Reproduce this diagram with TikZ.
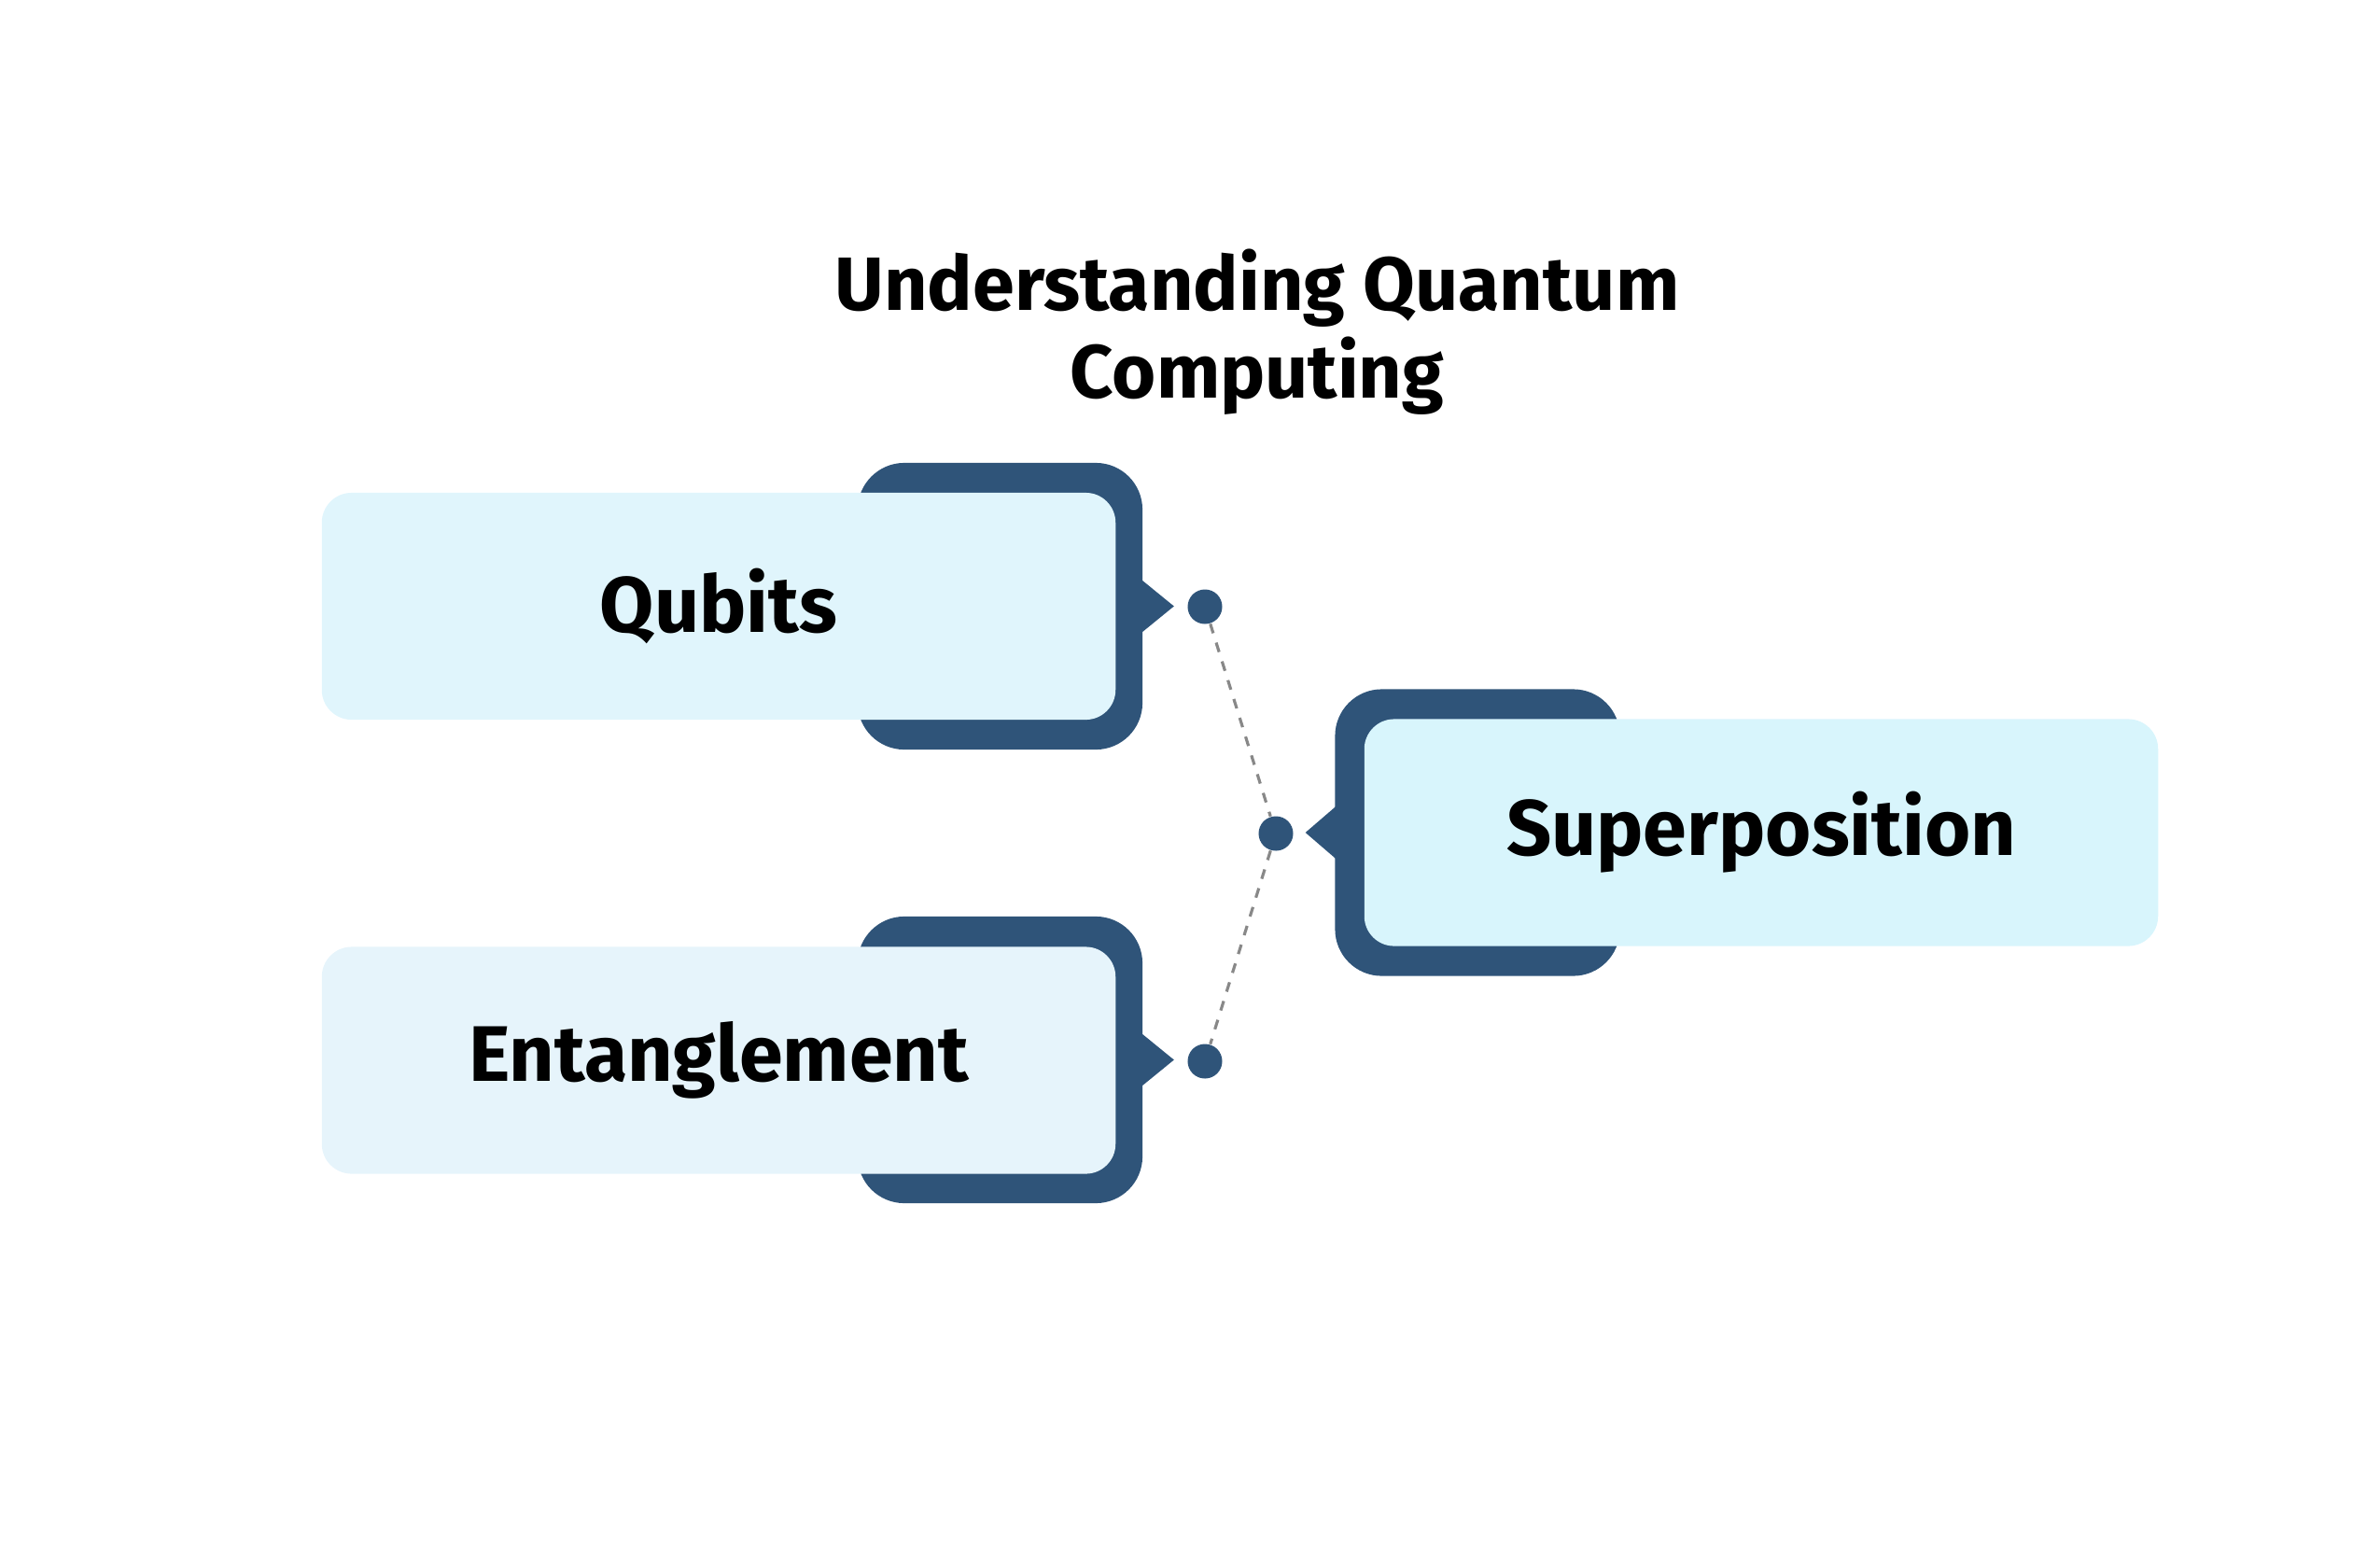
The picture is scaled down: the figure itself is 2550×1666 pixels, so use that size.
\documentclass[tikz,border=0pt]{standalone}
\usepackage{fontspec}
\setmainfont{Fira Sans}
\usepackage{tikz}

\definecolor{navy}{HTML}{2F5479}
\definecolor{iceA}{HTML}{E0F5FC}
\definecolor{iceB}{HTML}{E6F4FB}
\definecolor{iceC}{HTML}{D8F5FC}
\definecolor{dashgray}{HTML}{888888}

\tikzset{
	back/.style={rectangle, rounded corners=0.5cm, fill=navy, minimum width=3.05cm, minimum height=3.07cm},
	card/.style={rectangle, rounded corners=0.32cm, minimum width=8.5cm, minimum height=2.43cm, font=\fontsize{24}{29}\selectfont\bfseries},
	knob/.style={circle, fill=navy, inner sep=0pt, minimum size=0.37cm},
	link/.style={dashgray, dashed, line width=0.9pt}
}

\begin{document}
\begin{tikzpicture}[x=0.01cm, y=-0.01cm]
	\useasboundingbox (0,0) rectangle (2550,1666);

	\node[align=center, font=\fontsize{23}{26.7}\selectfont\bfseries] (title) at (1347,356) {Understanding Quantum\\Computing};

	% qubits
	\node[back] (qb) at (1071.5,649.5) {};
	\fill[navy] ([xshift=-0.05cm,yshift=0.31cm]qb.east) -- ([xshift=0.33cm]qb.east) -- ([xshift=-0.05cm,yshift=-0.31cm]qb.east) -- cycle;
	\node[card, fill=iceA] (qubits) at (770,649.5) {Qubits};
	\node[knob] (dq) at (1291,650) {};
	% entanglement
	\node[back] (eb) at (1071.5,1135.5) {};
	\fill[navy] ([xshift=-0.05cm,yshift=0.31cm]eb.east) -- ([xshift=0.33cm]eb.east) -- ([xshift=-0.05cm,yshift=-0.31cm]eb.east) -- cycle;
	\node[card, fill=iceB] (entangle) at (770,1136) {Entanglement};
	\node[knob] (de) at (1291,1137) {};
	% superposition
	\node[back] (sb) at (1583,892) {};
	\fill[navy] ([xshift=0.05cm,yshift=0.31cm]sb.west) -- ([xshift=-0.31cm]sb.west) -- ([xshift=0.05cm,yshift=-0.31cm]sb.west) -- cycle;
	\node[card, fill=iceC] (superpos) at (1887,892) {Superposition};
	\node[knob] (ds) at (1367,893) {};

	% links
	\draw[link] (dq) -- (ds);
	\draw[link] (ds) -- (de);
\end{tikzpicture}
\end{document}
